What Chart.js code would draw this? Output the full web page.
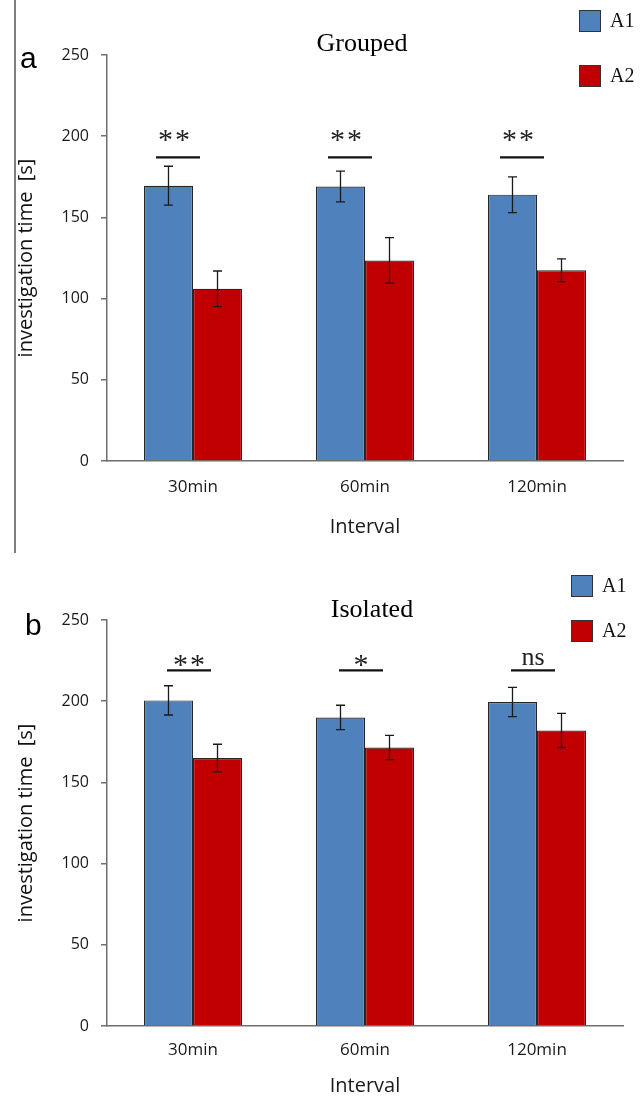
<!DOCTYPE html>
<html>
<head>
<meta charset="utf-8">
<script src="https://cdn.jsdelivr.net/npm/chart.js@4"></script>
<style>
  html, body { margin: 0; padding: 0; background: #fff; }
  .panel { position: absolute; left: 0; width: 643px; }
  #panelA { top: 0; height: 553px; }
  #panelB { top: 553px; height: 546px; }
</style>
</head>
<body>
<div class="panel" id="panelA"><canvas id="chartA"></canvas></div>
<div class="panel" id="panelB"><canvas id="chartB"></canvas></div>
<script>
const intervals = ['30min', '60min', '120min'];
const yTicks = [0, 50, 100, 150, 200, 250];

// panel a - grouped
const groupedA1 = [169.5, 169, 164];
const groupedA2 = [106, 123.5, 117.5];
const groupedA1Err = [12, 9.5, 11];
const groupedA2Err = [11, 14, 7];
const groupedSigLevel = [187, 187, 187];
const groupedSigLabel = ['**', '**', '**'];

// panel b - isolated
const isolatedA1 = [200.5, 190, 199.5];
const isolatedA2 = [165, 171.5, 182];
const isolatedA1Err = [9, 7.5, 9];
const isolatedA2Err = [8.5, 7.5, 10.5];
const isolatedSigLevel = [219, 219, 219];
const isolatedSigLabel = ['**', '*', 'ns'];

const blue = '#4F81BD';
const red = '#C00000';
const axisGray = '#6e6e6e';

const panelDecor = {
    id: 'panelDecor',
    afterDatasetsDraw(chart, args, o) {
        const ctx = chart.ctx;
        const xs = chart.scales.x, ys = chart.scales.y;
        ctx.save();
        // error bars
        ctx.strokeStyle = '#1a1a1a';
        ctx.lineWidth = 1.3;
        o.errors.forEach((errs, di) => {
            const vals = chart.data.datasets[di].data;
            chart.getDatasetMeta(di).data.forEach((bar, j) => {
                const top = ys.getPixelForValue(vals[j] + errs[j]);
                const bot = ys.getPixelForValue(vals[j] - errs[j]);
                ctx.beginPath();
                ctx.moveTo(bar.x, top); ctx.lineTo(bar.x, bot);
                ctx.moveTo(bar.x - 4.5, top); ctx.lineTo(bar.x + 4.5, top);
                ctx.moveTo(bar.x - 4.5, bot); ctx.lineTo(bar.x + 4.5, bot);
                ctx.stroke();
            });
        });
        // significance lines
        ctx.strokeStyle = '#111';
        ctx.lineWidth = 2.2;
        ctx.fillStyle = '#222';
        ctx.textAlign = 'center';
        ctx.textBaseline = 'alphabetic';
        o.sigLevel.forEach((lvl, j) => {
            const cx = xs.getPixelForValue(j) + o.sigShift;
            const yy = ys.getPixelForValue(lvl);
            ctx.beginPath();
            ctx.moveTo(cx - 22, yy); ctx.lineTo(cx + 22, yy);
            ctx.stroke();
            const lab = o.sigLabel[j];
            if (lab === 'ns') {
                ctx.font = '26px "Liberation Serif", serif';
                ctx.letterSpacing = '0px';
                ctx.fillText(lab, cx + o.labelShift, yy - o.textGap);
            } else {
                ctx.font = '30px "Liberation Serif", serif';
                ctx.letterSpacing = '2px';
                ctx.fillText(lab, cx + o.labelShift + 1, yy - o.starGap);
            }
        });
        ctx.restore();
    },
    afterDraw(chart, args, o) {
        const ctx = chart.ctx;
        ctx.save();
        if (o.frame) {
            ctx.strokeStyle = '#555';
            ctx.lineWidth = 1.5;
            ctx.beginPath();
            ctx.moveTo(15, 0); ctx.lineTo(15, chart.height);
            ctx.stroke();
        }
        // panel letter
        ctx.fillStyle = '#000';
        ctx.font = '30px "Liberation Sans", Arial, sans-serif';
        ctx.textAlign = 'left';
        ctx.textBaseline = 'alphabetic';
        ctx.fillText(o.letter, o.letterX, o.letterY);
        // title
        ctx.font = '26px "Liberation Serif", serif';
        ctx.textAlign = 'center';
        ctx.textBaseline = 'middle';
        ctx.fillText(o.title, o.titleX, o.titleY);
        // legend
        ctx.font = '20px "Liberation Serif", serif';
        ctx.textAlign = 'left';
        chart.data.datasets.forEach((ds, i) => {
            const cy = o.legendY[i];
            ctx.fillStyle = ds.backgroundColor;
            ctx.fillRect(o.legendX, cy - 11, 22, 22);
            ctx.strokeStyle = '#333';
            ctx.lineWidth = 1;
            ctx.strokeRect(o.legendX + 0.5, cy - 10.5, 21, 21);
            ctx.fillStyle = '#111';
            ctx.fillText(ds.label, o.legendX + 31, cy + 1);
        });
        ctx.restore();
    }
};

function makePanel(id, a1, a2, errs, sigLevel, sigLabel, L, decor) {
    const ctx = document.getElementById(id);
    return new Chart(ctx.getContext('2d'), {
        type: 'bar',
        data: {
            labels: intervals,
            datasets: [
                { label: 'A1', data: a1, backgroundColor: blue, borderColor: '#262626', borderWidth: 1.2,
                  categoryPercentage: 0.57, barPercentage: 1 },
                { label: 'A2', data: a2, backgroundColor: red, borderColor: '#262626', borderWidth: 1.2,
                  categoryPercentage: 0.57, barPercentage: 1 }
            ]
        },
        options: {
            responsive: true,
            maintainAspectRatio: false,
            animation: false,
            layout: { padding: { top: L.top, right: 20, left: 0, bottom: 0 } },
            plugins: {
                legend: { display: false },
                tooltip: { enabled: false },
                panelDecor: Object.assign({ errors: errs, sigLevel: sigLevel, sigLabel: sigLabel }, decor)
            },
            scales: {
                x: {
                    grid: { display: false, drawTicks: false },
                    border: { display: true, color: axisGray, width: 1.5 },
                    ticks: { padding: L.tickPad, color: '#1a1a1a', font: { family: 'Open Sans', size: 17 } },
                    title: { display: true, text: 'Interval', color: '#1a1a1a',
                             font: { family: 'Open Sans', size: 20 }, padding: { top: 0, bottom: L.titlePad } },
                    afterFit: s => { s.height = L.xHeight; }
                },
                y: {
                    min: 0,
                    max: 250,
                    afterBuildTicks: s => { s.ticks = yTicks.map(v => ({ value: v })); },
                    grid: { drawOnChartArea: false, drawTicks: true, tickLength: 6, color: axisGray, lineWidth: 1.5 },
                    border: { display: true, color: axisGray, width: 1.5 },
                    ticks: { padding: 12, color: '#1a1a1a', font: { family: 'Open Sans', size: 16 } },
                    title: { display: true, text: 'investigation time  [s]', color: '#111',
                             font: { family: 'Open Sans', size: 20 }, padding: { top: 14, bottom: 0 } },
                    afterFit: s => { s.width = 107; }
                }
            }
        },
        plugins: [panelDecor]
    });
}

document.addEventListener('DOMContentLoaded', function() {
    makePanel('chartA', groupedA1, groupedA2, [groupedA1Err, groupedA2Err], groupedSigLevel, groupedSigLabel,
        { top: 55, xHeight: 92, tickPad: 16, titlePad: 14 },
        { frame: true, letter: 'a', letterX: 20, letterY: 68, title: 'Grouped', titleX: 362, titleY: 44,
          legendX: 579, legendY: [21, 76], sigShift: -15, labelShift: -4, starGap: 8, textGap: 10 });
    makePanel('chartB', isolatedA1, isolatedA2, [isolatedA1Err, isolatedA2Err], isolatedSigLevel, isolatedSigLabel,
        { top: 67, xHeight: 73, tickPad: 14, titlePad: 1 },
        { frame: false, letter: 'b', letterX: 25, letterY: 82, title: 'Isolated', titleX: 372, titleY: 57,
          legendX: 571, legendY: [33, 78], sigShift: -4, labelShift: 0, starGap: -4, textGap: 5 });
});
</script>
</body>
</html>
